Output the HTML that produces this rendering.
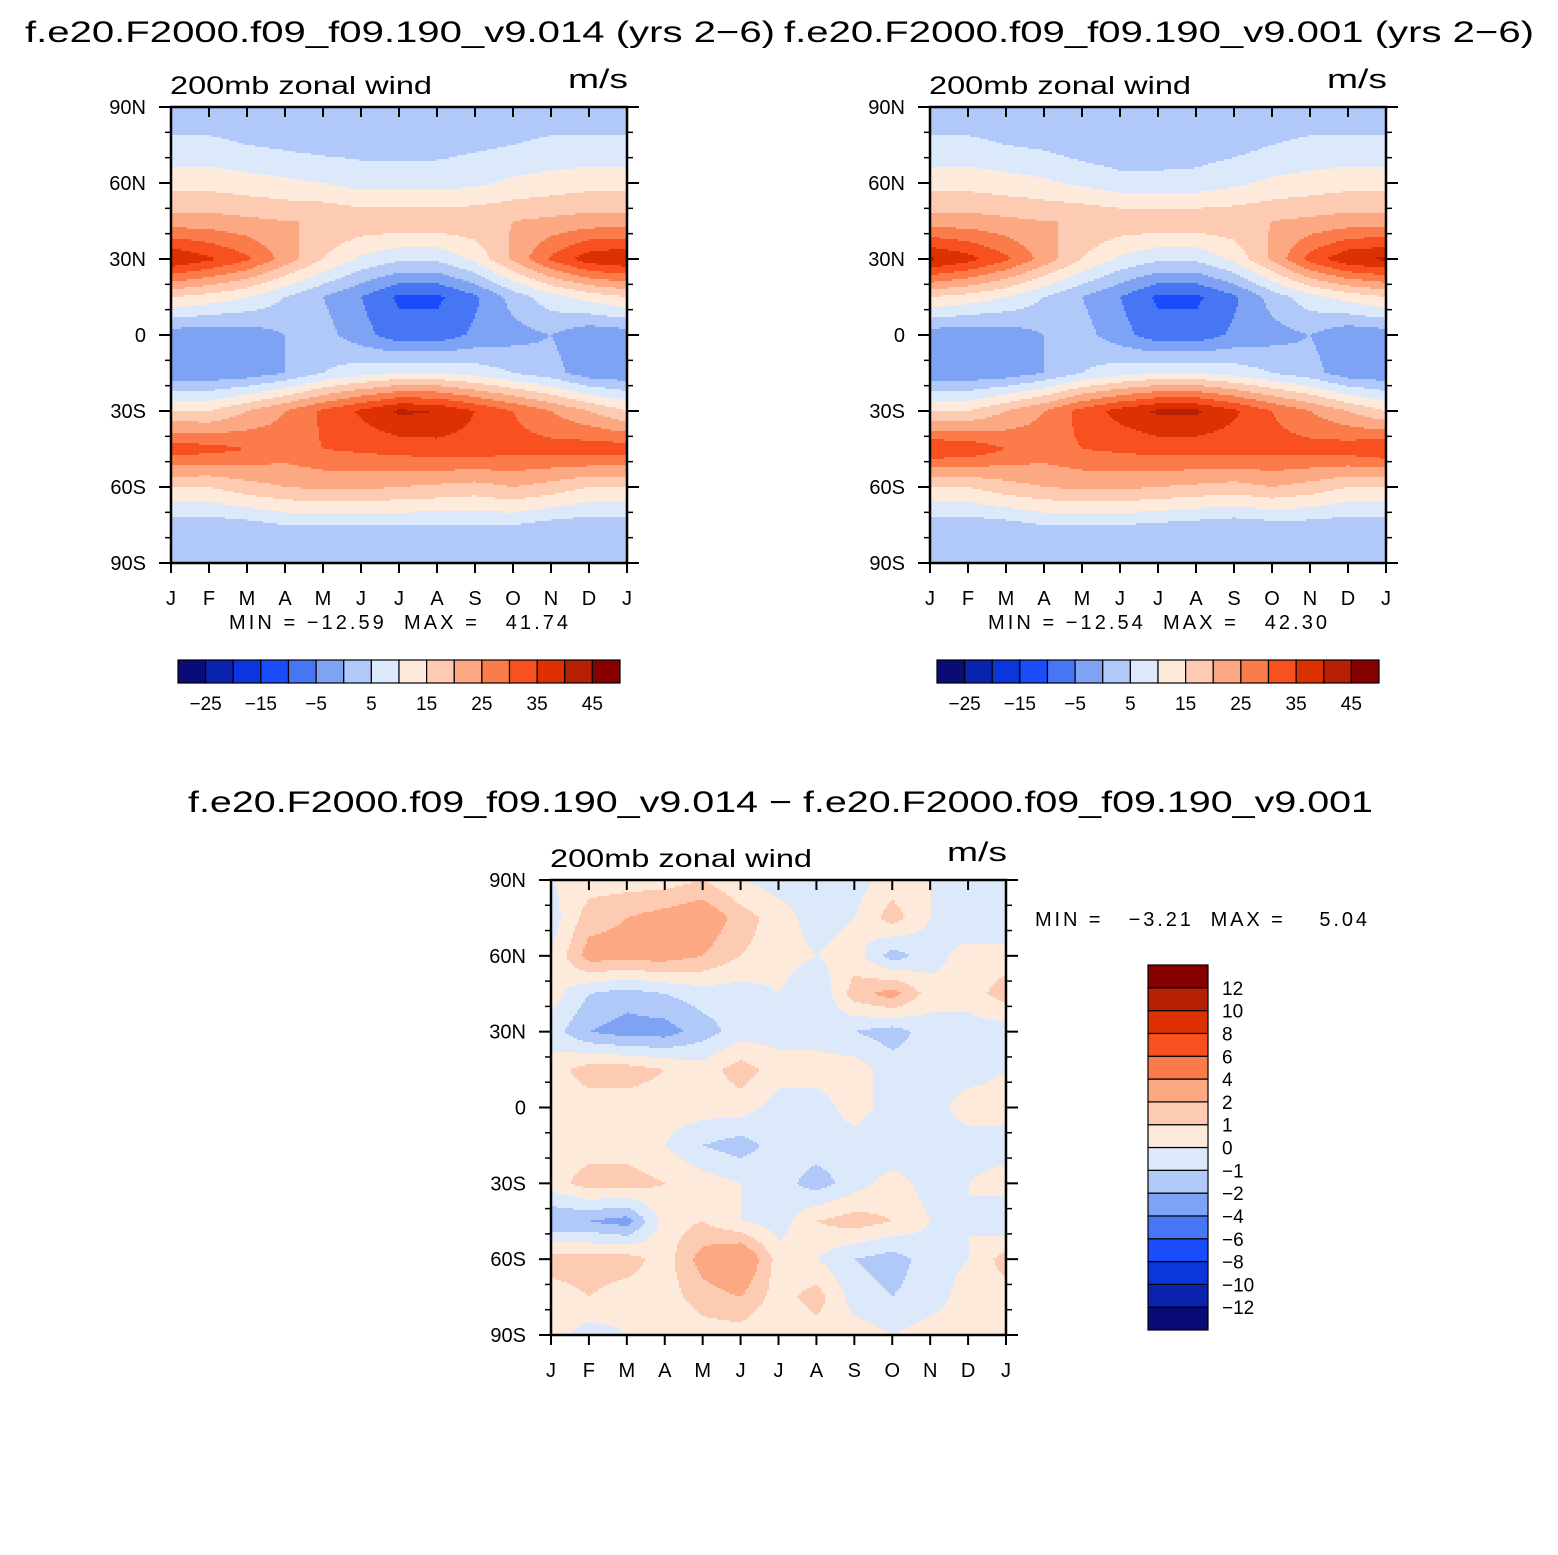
<!DOCTYPE html>
<html><head><meta charset="utf-8"><style>
html,body{margin:0;padding:0;background:#fff;}
svg{display:block;font-family:"Liberation Sans",sans-serif;}
.pre{white-space:pre;}
</style></head><body>
<svg id="root" width="1558" height="1555" viewBox="0 0 1558 1555" xmlns="http://www.w3.org/2000/svg">
<rect width="1558" height="1555" fill="#fff"/>
<text x="25" y="42" font-size="30" textLength="750" lengthAdjust="spacingAndGlyphs">f.e20.F2000.f09_f09.190_v9.014 (yrs 2−6)</text>
<text x="784" y="42" font-size="30" textLength="750" lengthAdjust="spacingAndGlyphs">f.e20.F2000.f09_f09.190_v9.001 (yrs 2−6)</text>
<text x="188" y="812" font-size="30" textLength="1185" lengthAdjust="spacingAndGlyphs">f.e20.F2000.f09_f09.190_v9.014 − f.e20.F2000.f09_f09.190_v9.001</text>
<g id="charts"></g>
</svg>
<script>
const months = ["J","F","M","A","M","J","J","A","S","O","N","D","J"];
const latLabels = ["90N","60N","30N","0","30S","60S","90S"];
const windA = [
 [2,2,2,2,2,2,2,2,2,2,2,2,2],
 [6,6,5,4,3,3,3,3,4,5,6,6,6],
 [13,13,12,11,10,8,8,8,9,11,12,13,13],
 [22,22,21,20,20,19,19,19,19,20,21,22,22],
 [40,36,31,23,15,9,6,6,11,21,31,38,40],
 [15,13,10,5,0,-5,-11,-11,-6,2,8,12,15],
 [-3,-4,-3,0,2,-3,-8,-8,-4,-2,0,-4,-3],
 [-4,-4,-3,0,5,8,10,10,8,5,2,-3,-4],
 [15,15,20,25,31,36,41,40,35,30,25,20,15],
 [33,32,30,28,30,31,32,33,33,32,32,33,33],
 [15,15,18,20,21,21,20,19,18,20,18,15,15],
 [2,2,3,5,5,5,5,5,5,5,3,2,2],
 [1,1,1,1,1,1,1,1,1,1,1,1,1]
];
const windB = [
 [2,2,2,2,1,1,1,1,2,2,2,2,2],
 [6,6,5,4,2,1,1,2,3,5,6,6,6],
 [13,13,12,11,9,7,7,7,9,11,12,13,13],
 [22,22,21,20,20,19,19,19,19,20,21,22,22],
 [41,37,31,23,15,9,6,6,11,21,32,39,41],
 [15,13,10,5,0,-5,-11,-11,-6,2,8,12,15],
 [-3,-4,-3,0,2,-3,-8,-8,-4,-2,0,-4,-3],
 [-4,-4,-3,0,5,8,10,10,8,5,2,-3,-4],
 [15,15,20,25,32,37,41,41,36,30,25,20,15],
 [35,34,30,28,30,31,32,32,32,32,32,33,35],
 [15,15,18,20,21,21,20,19,18,20,18,15,15],
 [2,2,3,5,5,5,4,3,2,3,3,2,2],
 [1,1,1,1,1,1,1,0,0,1,1,1,1]
];
const windDiff = [
 [0,0.5,0.5,0.5,1,0,-0.5,-0.5,-0.5,0.5,0,-1,-1],
 [-0.5,1.5,2,2.5,3,1.5,0.5,-0.5,0,1.5,0,-1,-1],
 [0,2.5,2.5,2.5,2,1,0.5,0,0.5,-1.5,-0.5,0.5,0.5],
 [0.5,-1,-1.5,-1,-0.5,-0.5,0,-1,1.5,2.5,0.5,0.5,1.5],
 [-0.5,-2,-2.5,-2.5,-1.5,-0.5,-0.5,-0.5,-1,-1.5,-0.5,-0.5,-0.5],
 [0.5,1.5,1.5,1,0.5,1.5,0.5,0.5,0.5,-0.5,-0.5,-0.5,0],
 [0.5,0.5,0.5,0.5,0.5,0.5,-0.5,-0.5,0.5,-0.5,-0.5,0.5,0.5],
 [0.5,0.5,0.5,0,-1,-1.5,-0.5,-0.5,-0.5,-1,-0.5,-0.5,-0.5],
 [0.5,1.5,1.5,1,0.5,0,-0.5,-1.5,-0.5,0.5,-0.5,0,0.5],
 [-2,-2,-2.5,0.5,1,0,-0.5,1,1.5,1,0,0,-1],
 [1.5,1.5,1.5,0.5,2.5,3.5,0.5,0,-1,-1.5,-0.5,0,1.5],
 [0.5,1,0.5,0.5,1.5,2,0.5,1.5,-0.5,-1,-0.5,0.5,0.5],
 [0.5,-0.5,0,0,0.5,0.5,0,0.5,0.5,0,0.5,0.5,0.5]
];
const levelsWind = [-25,-20,-15,-10,-5,0,5,10,15,20,25,30,35,40,45];
const windTickLabels = ["−25","−15","−5","5","15","25","35","45"];
const levelsDiff = [-12,-10,-8,-6,-4,-2,-1,0,1,2,4,6,8,10,12];
const diffTickLabels = ["−12","−10","−8","−6","−4","−2","−1","0","1","2","4","6","8","10","12"];
const palette = ["#0b0b78","#0a22ad","#0a36db","#1a4cfc","#4676f4","#7ea2f4","#b1c9f9","#dbe9fb","#feeadb","#fdcab2","#fca882","#fb7b4b","#f8501f","#de3102","#b72002","#870000"];

const NS="http://www.w3.org/2000/svg";
const root=document.getElementById('charts');
function mk(tag,attrs,parent){const e=document.createElementNS(NS,tag);for(const k in attrs)e.setAttribute(k,attrs[k]);(parent||root).appendChild(e);return e;}
function levelIndex(v,lev){let i=0;while(i<lev.length&&v>=lev[i])i++;return i;}
function sample(grid,mf,rf){
 mf=Math.max(0,Math.min(12,mf));rf=Math.max(0,Math.min(12,rf));
 const c0=Math.min(11,Math.floor(mf)),r0=Math.min(11,Math.floor(rf));
 const tx=mf-c0,ty=rf-r0;
 const a=grid[r0][c0],b=grid[r0][c0+1],c=grid[r0+1][c0],d=grid[r0+1][c0+1];
 return (a*(1-tx)+b*tx)*(1-ty)+(c*(1-tx)+d*tx)*ty;
}
function panel(name,grid,lev,x0,y0,w,h,minmax,mmx,mmy){
 const g=mk('g',{});
 
 
 const cs=2;
 const xScale=m=>x0+m/12*w;
 const yScale=lat=>y0+(90-lat)/180*h;
 for(let py=0;py<h;py+=cs){
  const rf=(py+cs/2)/h*12;
  let runStart=0,runCol=-1;
  for(let px=0;;px+=cs){
   const end=px>=w;
   let col=-2;
   if(!end){const mf=(px+cs/2)/w*12;col=levelIndex(sample(grid,mf,rf),lev);}
   if(col!==runCol){
    if(runCol>=0){
     const r=mk('rect',{x:x0+runStart,y:y0+py,width:Math.min(px,w)-runStart+0.6,height:Math.min(cs,h-py)+0.6,fill:palette[runCol]},g);
     
     
    }
    runStart=px;runCol=col;
   }
   if(end)break;
  }
 }
 const fr=mk('rect',{x:x0,y:y0,width:w,height:h,fill:'none',stroke:'#000','stroke-width':2.5},g);
 
 
 months.forEach((m,i)=>{
  const x=xScale(i);
  mk('line',{x1:x,x2:x,y1:y0+h,y2:y0+h+10,stroke:'#000','stroke-width':2},g);
  mk('line',{x1:x,x2:x,y1:y0,y2:y0+10,stroke:'#000','stroke-width':2},g);
  const t=mk('text',{x:x,y:y0+h+42,'font-size':20,'text-anchor':'middle'},g);
  t.textContent=m;
  
  
 });
 for(let lat=90;lat>=-90;lat-=10){
  const y=yScale(lat);
  mk('line',{x1:x0-6,x2:x0,y1:y,y2:y,stroke:'#000','stroke-width':1.5},g);
  mk('line',{x1:x0+w,x2:x0+w+6,y1:y,y2:y,stroke:'#000','stroke-width':1.5},g);
 }
 latLabels.forEach((l,i)=>{
  const y=yScale(90-i*30);
  mk('line',{x1:x0-12,x2:x0,y1:y,y2:y,stroke:'#000','stroke-width':2},g);
  mk('line',{x1:x0+w,x2:x0+w+12,y1:y,y2:y,stroke:'#000','stroke-width':2},g);
  const t=mk('text',{x:x0-25,y:y+7,'font-size':20,'text-anchor':'end'},g);
  t.textContent=l;
  
  
 });
 const st=mk('text',{x:x0-1,y:y0-13,'font-size':25,textLength:262,lengthAdjust:'spacingAndGlyphs'},g);
 st.textContent='200mb zonal wind';
 
 
 const u=mk('text',{x:x0+w-59,y:y0-19,'font-size':27,textLength:60,lengthAdjust:'spacingAndGlyphs'},g);
 u.textContent='m/s';
 
 
 if(minmax){
  const mm=mk('text',{x:mmx,y:mmy,'font-size':20,'class':'pre',textLength:339,lengthAdjust:'spacing'},g);
  mm.textContent=minmax;
  
  
 }
}
function hbar(name,x0,y0,w,h){
 const g=mk('g',{});
 
 
 const bw=w/16;
 palette.forEach((c,i)=>{
  const r=mk('rect',{x:x0+i*bw,y:y0,width:bw,height:h,fill:c,stroke:'#000','stroke-width':1.2},g);
  
  
 });
 windTickLabels.forEach((l,i)=>{
  const t=mk('text',{x:x0+(1+2*i)*bw,y:y0+h+27,'font-size':19,'text-anchor':'middle'},g);
  t.textContent=l;
  
  
 });
}
function vbar(name,x0,y0,w,h){
 const g=mk('g',{});
 
 
 const bh=h/16;
 palette.forEach((c,i)=>{
  const r=mk('rect',{x:x0,y:y0+(15-i)*bh,width:w,height:bh,fill:c,stroke:'#000','stroke-width':1.2},g);
  
  
 });
 diffTickLabels.forEach((l,i)=>{
  const t=mk('text',{x:x0+w+14,y:y0+(15-i)*bh+7,'font-size':19},g);
  t.textContent=l;
  
  
 });
}
panel('left-panel',windA,levelsWind,171,107,456,456,'MIN = −12.59  MAX =   41.74',229,629);
panel('right-panel',windB,levelsWind,930,107,456,456,'MIN = −12.54  MAX =   42.30',988,629);
panel('difference-panel',windDiff,levelsDiff,551,880,455,455,'',0,0);
hbar('left-colorbar',178,660,442,23);
hbar('right-colorbar',937,660,442,23);
vbar('difference-colorbar',1148,965,60,365);
const t=mk('text',{x:1035,y:926,'font-size':20,'class':'pre',textLength:332,lengthAdjust:'spacing'});
t.textContent='MIN =   −3.21  MAX =    5.04';


</script>
</body></html>
